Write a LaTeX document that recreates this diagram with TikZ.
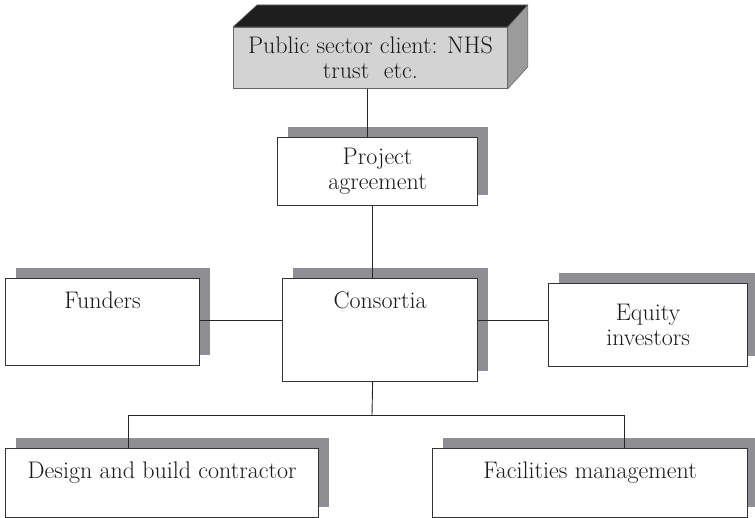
\documentclass[tikz,border=0pt]{standalone}
\usetikzlibrary{shadows}
\definecolor{shd}{HTML}{8E8E93}
\definecolor{topface}{HTML}{1E1E1E}
\definecolor{frontface}{HTML}{D3D3D3}
\definecolor{sideface}{HTML}{9B9B9B}
\begin{document}
\begin{tikzpicture}[x=1pt,y=-1pt,
  txt/.style={font=\fontsize{24}{25}\selectfont, text=black!90, align=center},
  box/.style={txt, draw=black!80, line width=1.2pt, fill=white, inner sep=0pt, anchor=north west,
    drop shadow={shadow xshift=10pt, shadow yshift=10.5pt, shadow scale=1, fill=shd, opacity=1}},
  conn/.style={draw=black!85, line width=0.9pt},
  face/.style={draw=black!60, line width=0.6pt, line join=round}
]
\useasboundingbox (0,0) rectangle (755,518);

% 3D top box
\node[txt, anchor=north west, draw=black!60, line width=0.8pt, fill=frontface, inner sep=0pt,
      minimum width=274pt, minimum height=61pt] (top) at (233,27)
      {Public sector client: NHS\\trust~~etc.};
\fill[topface, face] (top.north west) -- ([shift={(24,-22)}]top.north west)
   -- ([shift={(20,-22)}]top.north east) -- (top.north east) -- cycle;
\fill[sideface, face] (top.north east) -- ([shift={(20,-22)}]top.north east)
   -- ([shift={(20,-22)}]top.south east) -- (top.south east) -- cycle;

\node[box, minimum width=200pt, minimum height=68pt] (proj) at (277,137) {Project\\agreement};
\node[box, minimum width=194pt, text height=30pt, text depth=57pt] (fund) at (5,278) {Funders};
\node[box, minimum width=195pt, text height=30pt, text depth=73pt] (cons) at (282,278) {Consortia};
\node[box, minimum width=199pt, minimum height=83pt] (eq) at (548,283) {Equity\\investors};
\node[box, minimum width=313pt, text height=30pt, text depth=39pt] (dbc) at (5,448) {Design and build contractor};
\node[box, minimum width=315pt, text height=30pt, text depth=39pt] (fm) at (432,448) {Facilities management};

\coordinate (j) at (372,415);

\draw[conn] ([xshift=-3pt]top.south) -- ([xshift=-3pt]top.south |- proj.north);
\draw[conn] ([xshift=-7.5pt]cons.north |- proj.south) -- ([xshift=-7.5pt]cons.north);
\draw[conn] ([yshift=1.5pt]fund.east) -- ([yshift=1.5pt]fund.east -| cons.west);
\draw[conn] ([yshift=1.5pt]fund.east -| cons.east) -- ([yshift=1.5pt]fund.east -| eq.west);
\draw[conn] ([xshift=-7.5pt]cons.south) -- (j);
\draw[conn] ([xshift=-33.5pt]dbc.north) |- ([xshift=34.5pt]fm.north |- j) -- ([xshift=34.5pt]fm.north);
\end{tikzpicture}
\end{document}
